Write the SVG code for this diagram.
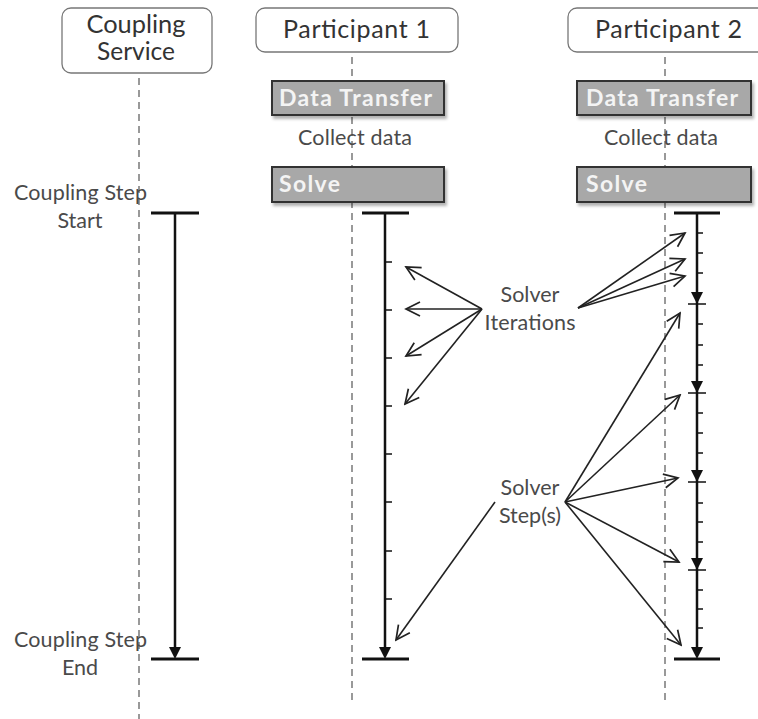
<svg xmlns="http://www.w3.org/2000/svg" width="758" height="719" viewBox="0 0 758 719">
<style>
.hdr{fill:#fff;stroke:#777;stroke-width:1.3}
.htxt{font-family:Lato,"Open Sans",sans-serif;font-size:25px;fill:#333;text-anchor:middle}
.life{stroke:#999;stroke-width:2;stroke-dasharray:7,5;fill:none}
.act{fill:#a8a8a8;stroke:#333;stroke-width:2}
.atxt{font-family:Lato,"Open Sans",sans-serif;font-size:23px;font-weight:bold;fill:#f4f4f4}
.lbl{font-family:Lato,"Open Sans",sans-serif;font-size:21.5px;fill:#4a4a4a;text-anchor:middle}
.bar{stroke:#111;stroke-width:2.5;fill:none}
.cap{stroke:#111;stroke-width:3;fill:none}
.tick{stroke:#111;stroke-width:1.5}
.arr{stroke:#222;stroke-width:1.6;fill:none;marker-end:url(#open)}
.tri{fill:#111}
</style>
<defs>
<marker id="open" markerUnits="userSpaceOnUse" markerWidth="18" markerHeight="18" viewBox="0 0 18 18" refX="16" refY="9" orient="auto">
<path d="M2,2 L16,9 L2,16" fill="none" stroke="#222" stroke-width="1.7"/>
</marker>
<filter id="sh" x="-5%" y="-10%" width="115%" height="140%">
<feDropShadow dx="2" dy="3" stdDeviation="1.5" flood-color="#000" flood-opacity="0.3"/>
</filter>
</defs>

<g id="lifelines">
<line class="life" x1="139" y1="78" x2="139" y2="719"/>
<line class="life" x1="352" y1="57" x2="352" y2="700"/>
<line class="life" x1="665" y1="57" x2="665" y2="700"/>
</g>

<g id="coupling-service">
<rect class="hdr" x="62" y="8" width="150" height="65" rx="9"/>
<text class="htxt" x="136" y="33" textLength="99" lengthAdjust="spacingAndGlyphs">Coupling</text>
<text class="htxt" x="136" y="60" textLength="78" lengthAdjust="spacingAndGlyphs">Service</text>
</g>

<g id="participant-1">
<rect class="hdr" x="256" y="8" width="202" height="44" rx="9"/>
<text class="htxt" x="356.5" y="38" textLength="147" lengthAdjust="spacing">Participant 1</text>
</g>

<g id="participant-2">
<rect class="hdr" x="568" y="8" width="200" height="44" rx="9"/>
<text class="htxt" x="668.5" y="38" textLength="147" lengthAdjust="spacing">Participant 2</text>
</g>

<g id="p1-data-transfer">
<rect class="act" x="272" y="81" width="172" height="34" filter="url(#sh)"/>
<text class="atxt" x="279" y="106" textLength="153" lengthAdjust="spacing">Data Transfer</text>
</g>
<g id="p2-data-transfer">
<rect class="act" x="577" y="81" width="174" height="34" filter="url(#sh)"/>
<text class="atxt" x="586" y="106" textLength="152" lengthAdjust="spacing">Data Transfer</text>
</g>
<text class="lbl" x="355" y="145" textLength="114" lengthAdjust="spacing">Collect data</text>
<text class="lbl" x="661" y="145" textLength="114" lengthAdjust="spacing">Collect data</text>
<g id="p1-solve">
<rect class="act" x="272" y="167" width="172" height="35" filter="url(#sh)"/>
<text class="atxt" x="279" y="192" textLength="61" lengthAdjust="spacing">Solve</text>
</g>
<g id="p2-solve">
<rect class="act" x="577" y="167" width="174" height="35" filter="url(#sh)"/>
<text class="atxt" x="586" y="192" textLength="61" lengthAdjust="spacing">Solve</text>
</g>

<g id="labels">
<text class="lbl" x="80.5" y="200" textLength="133" lengthAdjust="spacing">Coupling Step</text>
<text class="lbl" x="80" y="228">Start</text>
<text class="lbl" x="80.5" y="647" textLength="133" lengthAdjust="spacing">Coupling Step</text>
<text class="lbl" x="80" y="675">End</text>
<text class="lbl" x="530" y="302">Solver</text>
<text class="lbl" x="530" y="330" textLength="91" lengthAdjust="spacing">Iterations</text>
<text class="lbl" x="530" y="495">Solver</text>
<text class="lbl" x="530" y="523">Step(s)</text>
</g>

<g id="cs-timeline">
<line class="cap" x1="151" y1="213" x2="199" y2="213"/>
<line class="bar" x1="175" y1="213" x2="175" y2="650"/>
<polygon class="tri" points="169,647 181,647 175,659"/>
<line class="cap" x1="151" y1="659" x2="199" y2="659"/>
</g>

<g id="p1-timeline">
<line class="cap" x1="362" y1="213" x2="409" y2="213"/>
<line class="bar" x1="385" y1="213" x2="385" y2="650"/>
<polygon class="tri" points="379,647 391,647 385,659"/>
<line class="cap" x1="362" y1="659" x2="409" y2="659"/>
<g class="tick">
<line x1="385" y1="262" x2="392" y2="262"/>
<line x1="385" y1="310" x2="392" y2="310"/>
<line x1="385" y1="358" x2="392" y2="358"/>
<line x1="385" y1="406" x2="392" y2="406"/>
<line x1="385" y1="454" x2="392" y2="454"/>
<line x1="385" y1="502" x2="392" y2="502"/>
<line x1="385" y1="551" x2="392" y2="551"/>
<line x1="385" y1="599" x2="392" y2="599"/>
</g>
</g>

<g id="p2-timeline">
<line class="cap" x1="674" y1="213" x2="720" y2="213"/>
<line class="bar" x1="697" y1="213" x2="697" y2="650"/>
<line class="cap" x1="674" y1="659" x2="720" y2="659"/>
<polygon class="tri" points="691,647 703,647 697,659"/>
<polygon class="tri" points="691,292 703,292 697,304"/>
<polygon class="tri" points="691,381 703,381 697,393"/>
<polygon class="tri" points="691,470 703,470 697,482"/>
<polygon class="tri" points="691,558 703,558 697,570"/>
<g class="tick">
<line x1="688" y1="304" x2="706" y2="304"/>
<line x1="688" y1="393" x2="706" y2="393"/>
<line x1="688" y1="482" x2="706" y2="482"/>
<line x1="688" y1="570" x2="706" y2="570"/>
<line x1="697" y1="233" x2="703" y2="233"/>
<line x1="697" y1="253" x2="703" y2="253"/>
<line x1="697" y1="273" x2="703" y2="273"/>
<line x1="697" y1="324" x2="703" y2="324"/>
<line x1="697" y1="345" x2="703" y2="345"/>
<line x1="697" y1="365" x2="703" y2="365"/>
<line x1="697" y1="413" x2="703" y2="413"/>
<line x1="697" y1="433" x2="703" y2="433"/>
<line x1="697" y1="453" x2="703" y2="453"/>
<line x1="697" y1="503" x2="703" y2="503"/>
<line x1="697" y1="522" x2="703" y2="522"/>
<line x1="697" y1="542" x2="703" y2="542"/>
<line x1="697" y1="590" x2="703" y2="590"/>
<line x1="697" y1="609" x2="703" y2="609"/>
<line x1="697" y1="628" x2="703" y2="628"/>
</g>
</g>

<g id="connectors">
<line class="arr" x1="482" y1="309" x2="406" y2="267"/>
<line class="arr" x1="482" y1="309" x2="406" y2="309"/>
<line class="arr" x1="482" y1="309" x2="406" y2="356"/>
<line class="arr" x1="482" y1="309" x2="405" y2="404"/>
<line class="arr" x1="578" y1="308" x2="685" y2="233"/>
<line class="arr" x1="578" y1="308" x2="685" y2="259"/>
<line class="arr" x1="578" y1="308" x2="685" y2="276"/>
<line class="arr" x1="565" y1="502" x2="680" y2="313"/>
<line class="arr" x1="565" y1="502" x2="680" y2="395"/>
<line class="arr" x1="565" y1="502" x2="678" y2="478"/>
<line class="arr" x1="565" y1="502" x2="679" y2="562"/>
<line class="arr" x1="565" y1="502" x2="681" y2="645"/>
<line class="arr" x1="495" y1="502" x2="396" y2="640"/>
</g>
</svg>
